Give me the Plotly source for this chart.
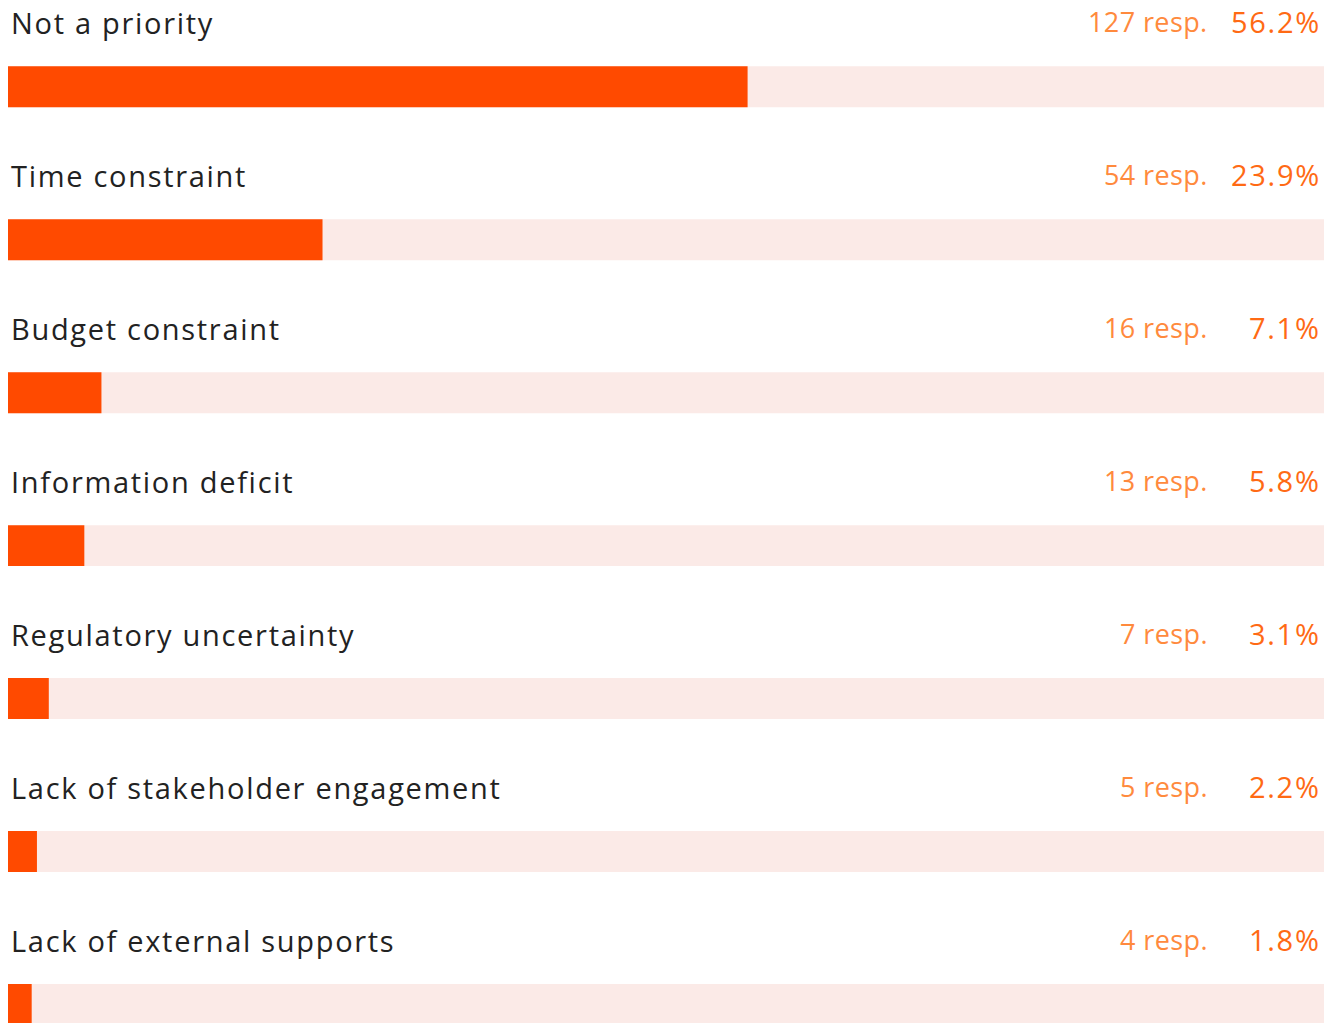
import plotly.graph_objects as go

categories = ["Not a priority", "Time constraint", "Budget constraint", "Information deficit",
              "Regulatory uncertainty", "Lack of stakeholder engagement", "Lack of external supports"]
responses = [127, 54, 16, 13, 7, 5, 4]
percents = [56.2, 23.9, 7.1, 5.8, 3.1, 2.2, 1.8]

n = len(categories)
idx = list(range(n))

BAR = "#FF4A00"
TRACK = "#FBEAE7"
LABEL = "#222222"
RESP = "#FF8A3D"
PCT = "#FF6A14"
FONT = "Open Sans"

fig = go.Figure()
fig.add_trace(go.Bar(y=idx, x=[100] * n, orientation="h", marker=dict(color=TRACK, line=dict(width=0)),
                     width=0.268, hoverinfo="skip", showlegend=False))
fig.add_trace(go.Bar(y=idx, x=percents, orientation="h", marker=dict(color=BAR, line=dict(width=0)),
                     width=0.268, hoverinfo="skip", showlegend=False))

for i, c in enumerate(categories):
    fig.add_annotation(x=0, y=i, text=c, xanchor="left", yanchor="middle", showarrow=False, visible=False,
                       xshift=1, yshift=64.5, font=dict(family=FONT, size=29, color=LABEL))
for i, p in enumerate(percents):
    fig.add_annotation(x=100, y=i, text=f"{p}%", xanchor="right", yanchor="middle", showarrow=False, visible=False,
                       xshift=-1, yshift=65, font=dict(family=FONT, size=29, color=PCT))
for i, r in enumerate(responses):
    fig.add_annotation(x=100, y=i, text=f"{r} resp.", xanchor="right", yanchor="middle", showarrow=False, visible=False,
                       xshift=-114, yshift=65, font=dict(family=FONT, size=27, color=RESP))

fig.update_layout(
    width=1338, height=1023,
    margin=dict(l=8, r=14, t=0, b=0),
    paper_bgcolor="white", plot_bgcolor="white",
    barmode="overlay",
    xaxis=dict(range=[0, 100], visible=False, fixedrange=True),
    yaxis=dict(range=[6.1209, -0.5671], visible=False, fixedrange=True),
)

post = """
var s = document.createElement('style');
s.textContent = 'html,body{margin:0;padding:0;overflow:hidden}' +
  'text.annotation-text{letter-spacing:1.7px}text.annotation-text[style*="27px"]{letter-spacing:0.4px}';
document.head.appendChild(s);
var gd = document.getElementById('{plot_id}');
var upd = {};
for (var i = 0; i < gd.layout.annotations.length; i++) { upd['annotations[' + i + '].visible'] = true; }
return Plotly.relayout(gd, upd);
"""

fig.write_html("out.html", config={"displayModeBar": False}, post_script=post)
